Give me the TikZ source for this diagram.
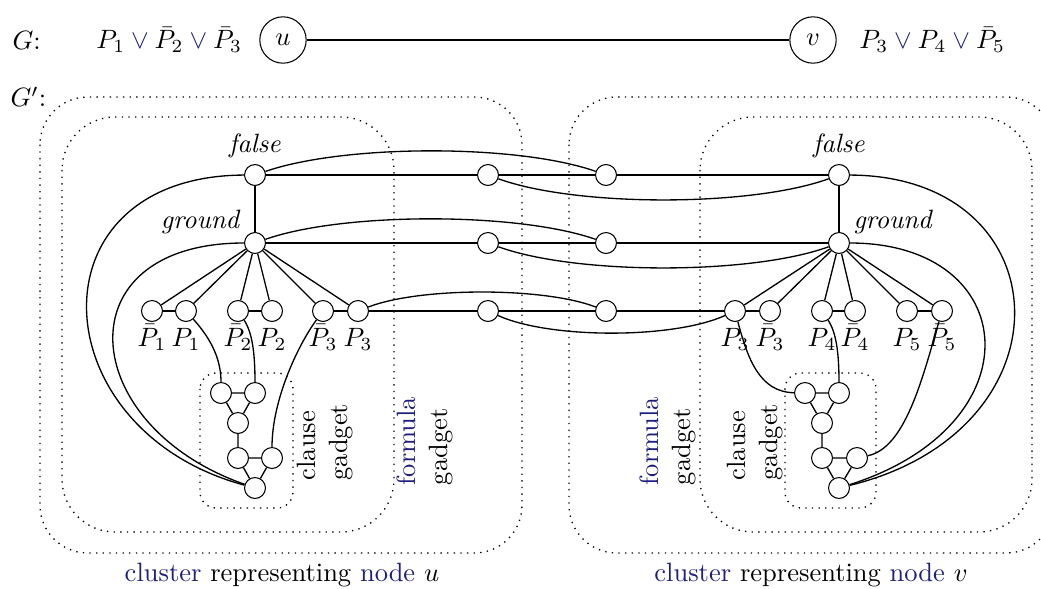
\documentclass[tikz,border=0pt]{standalone}
\usepackage{amsmath}
\usepackage{amssymb}
\usetikzlibrary{positioning}
\definecolor{clblue}{RGB}{30,30,125}
\newcommand{\bor}{\mathbin{\color{clblue}\vee}}

\begin{document}
\begin{tikzpicture}[x=0.3774pt, y=-0.3774pt,
    vtx/.style={circle, draw, inner sep=0pt, minimum size=7.9pt},
    bigvtx/.style={circle, draw, inner sep=0pt, minimum size=17.5pt},
    lit/.style={inner sep=0.5pt, text height=8.5pt, text depth=2.5pt},
    edge/.style={black, line width=0.5pt},
    box/.style={dotted, line width=0.5pt}]
    \useasboundingbox (0,0) rectangle (1041,588);

    % G
    \node[anchor=west, inner sep=0pt] (gname) at (12,40) {$G$:};
    \node[bigvtx] (u) at (283,40) {$u$};
    \node[bigvtx] (v) at (813,40) {$v$};
    \node[left=3pt of u] (fu) {$P_1 \bor \bar{P}_2 \bor \bar{P}_3$};
    \node[right=5pt of v] (fv) {$P_3 \bor P_4 \bor \bar{P}_5$};
    \draw[edge] (u) -- (v);

    % G'
    \node[anchor=west, inner sep=0pt] (gpname) at (10,97) {$G'$:};

    % clusters and gadgets
    \draw[box, rounded corners=18pt] (40,97) rectangle (522,553);
    \draw[box, rounded corners=20pt] (62,117) rectangle (394,532);
    \draw[box, rounded corners=6pt] (200,373) rectangle (293,508);
    \draw[box, rounded corners=18pt] (569,97) rectangle (1054,553);
    \draw[box, rounded corners=20pt] (700,117) rectangle (1032,532);
    \draw[box, rounded corners=6pt] (785,373) rectangle (876,508);

    \node[rotate=90, align=left] (lcg) at (325,442) {clause\\gadget};
    \node[rotate=90, align=left] (lfg) at (425,441) {\textcolor{clblue}{formula}\\gadget};
    \node[rotate=90, align=left] (rfg) at (668,441) {\textcolor{clblue}{formula}\\gadget};
    \node[rotate=90, align=left] (rcg) at (755,442) {clause\\gadget};
    \node (lclu) at (282,575) {\textcolor{clblue}{cluster} representing \textcolor{clblue}{node} $u$};
    \node (rclu) at (811,575) {\textcolor{clblue}{cluster} representing \textcolor{clblue}{node} $v$};

    % left cluster
    \node[vtx] (lfalse) at (255,175) {};
    \node[vtx] (lground) at (255,243) {};
    \node[above=0pt of lfalse, inner sep=2pt] (tlfalse) {\textit{false}};
    \node[above left=-3pt and -1pt of lground] (tlground) {\textit{ground}};
    \node[vtx] (lnP1) at (152,311) {};
    \node[vtx] (lP1) at (186,311) {};
    \node[vtx] (lnP2) at (238,311) {};
    \node[vtx] (lP2) at (272,311) {};
    \node[vtx] (lnP3) at (323,311) {};
    \node[vtx] (lP3) at (358,311) {};
    \node[lit, below=0pt of lnP1] (tlnP1) {$\bar{P}_1$};
    \node[lit, below=0pt of lP1] (tlP1) {$P_1$};
    \node[lit, below=0pt of lnP2] (tlnP2) {$\bar{P}_2$};
    \node[lit, below=0pt of lP2] (tlP2) {$P_2$};
    \node[lit, below=0pt of lnP3] (tlnP3) {$\bar{P}_3$};
    \node[lit, below=0pt of lP3] (tlP3) {$P_3$};
    \node[vtx] (lc1) at (221,393) {};
    \node[vtx] (lc2) at (255,393) {};
    \node[vtx] (lc3) at (238,423) {};
    \node[vtx] (lc4) at (238,458) {};
    \node[vtx] (lc5) at (272,458) {};
    \node[vtx] (lc6) at (255,488) {};

    % middle
    \node[vtx] (a1) at (488,175) {};
    \node[vtx] (a2) at (606,175) {};
    \node[vtx] (b1) at (488,243) {};
    \node[vtx] (b2) at (606,243) {};
    \node[vtx] (c1) at (488,311) {};
    \node[vtx] (c2) at (606,311) {};

    % right cluster
    \node[vtx] (rfalse) at (839,175) {};
    \node[vtx] (rground) at (839,243) {};
    \node[above=0pt of rfalse, inner sep=2pt] (trfalse) {\textit{false}};
    \node[above right=-3pt and -1pt of rground] (trground) {\textit{ground}};
    \node[vtx] (rP3) at (735,311) {};
    \node[vtx] (rnP3) at (770,311) {};
    \node[vtx] (rP4) at (822,311) {};
    \node[vtx] (rnP4) at (855,311) {};
    \node[vtx] (rP5) at (907,311) {};
    \node[vtx] (rnP5) at (942,311) {};
    \node[lit, below=0pt of rP3] (trP3) {$P_3$};
    \node[lit, below=0pt of rnP3] (trnP3) {$\bar{P}_3$};
    \node[lit, below=0pt of rP4] (trP4) {$P_4$};
    \node[lit, below=0pt of rnP4] (trnP4) {$\bar{P}_4$};
    \node[lit, below=0pt of rP5] (trP5) {$P_5$};
    \node[lit, below=0pt of rnP5] (trnP5) {$\bar{P}_5$};
    \node[vtx] (rc1) at (805,393) {};
    \node[vtx] (rc2) at (839,393) {};
    \node[vtx] (rc3) at (822,423) {};
    \node[vtx] (rc4) at (822,458) {};
    \node[vtx] (rc5) at (857,458) {};
    \node[vtx] (rc6) at (839,488) {};

    % left edges
    \draw[edge] (lfalse) -- (lground);
    \draw[edge] (lground) -- (lnP1) (lground) -- (lP1) (lground) -- (lnP2)
        (lground) -- (lP2) (lground) -- (lnP3) (lground) -- (lP3);
    \draw[edge] (lnP1) -- (lP1) (lnP2) -- (lP2) (lnP3) -- (lP3);
    \draw[edge] (lc1) -- (lc2) -- (lc3) -- (lc1) (lc3) -- (lc4)
        (lc4) -- (lc5) -- (lc6) -- (lc4);
    \draw[edge] (lfalse) .. controls (28,176) and (40,430) .. (lc6);
    \draw[edge] (lground) .. controls (62,243) and (76,425) .. (lc6);
    \draw[edge] (lP1) .. controls (212,340) and (221,360) .. (lc1);
    \draw[edge] (lnP2) .. controls (252,332) and (255,352) .. (lc2);
    \draw[edge] (lnP3) .. controls (298,345) and (272,400) .. (lc5);

    % right edges
    \draw[edge] (rfalse) -- (rground);
    \draw[edge] (rground) -- (rP3) (rground) -- (rnP3) (rground) -- (rP4)
        (rground) -- (rnP4) (rground) -- (rP5) (rground) -- (rnP5);
    \draw[edge] (rP3) -- (rnP3) (rP4) -- (rnP4) (rP5) -- (rnP5);
    \draw[edge] (rc1) -- (rc2) -- (rc3) -- (rc1) (rc3) -- (rc4)
        (rc4) -- (rc5) -- (rc6) -- (rc4);
    \draw[edge] (rfalse) .. controls (1063,176) and (1076,430) .. (rc6);
    \draw[edge] (rground) .. controls (1022,243) and (1038,425) .. (rc6);
    \draw[edge] (rP3) .. controls (748,360) and (760,392) .. (rc1);
    \draw[edge] (rP4) .. controls (836,332) and (839,352) .. (rc2);
    \draw[edge] (rnP5) .. controls (922,380) and (905,448) .. (rc5);

    % connections between the clusters
    \draw[edge] (lfalse) -- (a1) -- (a2) -- (rfalse);
    \draw[edge] (lground) -- (b1) -- (b2) -- (rground);
    \draw[edge] (lP3) -- (c1) -- (c2) -- (rP3);
    \draw[edge] (lfalse) .. controls (345,144) and (518,144) .. (a2);
    \draw[edge] (a1) .. controls (576,207) and (751,207) .. (rfalse);
    \draw[edge] (lground) .. controls (343,212) and (518,212) .. (b2);
    \draw[edge] (b1) .. controls (576,275) and (751,275) .. (rground);
    \draw[edge] (lP3) .. controls (420,287) and (544,287) .. (c2);
    \draw[edge] (c1) .. controls (550,339) and (673,339) .. (rP3);
\end{tikzpicture}
\end{document}
